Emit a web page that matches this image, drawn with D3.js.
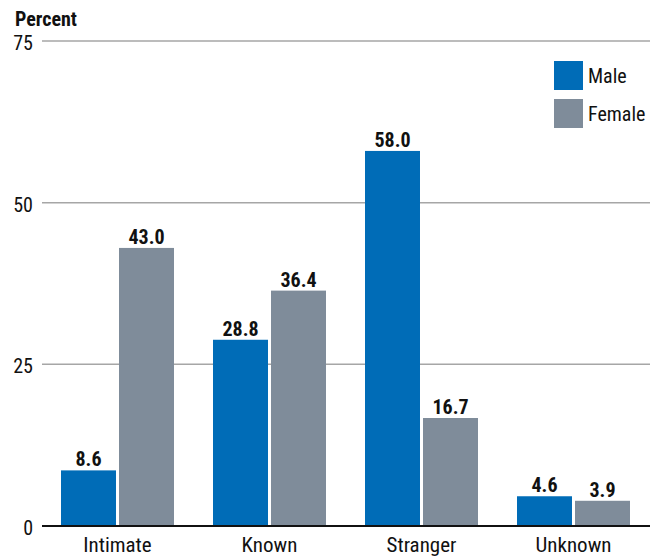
<!DOCTYPE html>
<html>
<head>
<meta charset="utf-8">
<script src="https://cdn.jsdelivr.net/npm/d3@7"></script>
<style>
  body { margin: 0; background: #fff; }
  svg { display: block; font-family: "Roboto Condensed", "Roboto", "Liberation Sans Narrow", sans-serif; font-stretch: condensed; }
</style>
</head>
<body>
<svg id="chart" width="656" height="556"></svg>
<script>
var categories = ["Intimate", "Known", "Stranger", "Unknown"];
var groups = ["Male", "Female"];
var maleValues = [8.6, 28.8, 58.0, 4.6];
var femaleValues = [43.0, 36.4, 16.7, 3.9];
var yTicks = [0, 25, 50, 75];

var colors = { Male: "#006cb7", Female: "#7f8c9a" };

var svg = d3.select("#chart");
var plotLeft = 42, plotRight = 650, plotTop = 41, plotBottom = 526;

var rows = categories.map(function(c, i) {
    return { cat: c, Male: maleValues[i], Female: femaleValues[i] };
});

var x = d3.scaleBand()
    .domain(categories)
    .range([plotLeft, 649])
    .paddingInner(0.2566)
    .paddingOuter(0.125);

var xSub = d3.scaleBand()
    .domain(groups)
    .range([0, x.bandwidth()])
    .paddingInner(0.052);

var y = d3.scaleLinear()
    .domain([0, 75])
    .range([plotBottom, plotTop]);

// gridlines
svg.append("g")
    .selectAll("line")
    .data(yTicks.filter(d => d > 0))
    .join("line")
    .attr("x1", plotLeft)
    .attr("x2", plotRight)
    .attr("y1", d => y(d))
    .attr("y2", d => y(d))
    .style("stroke", "#a6a6a6")
    .style("stroke-width", "1.5px");

// y tick labels
svg.append("g")
    .selectAll("text")
    .data(yTicks)
    .join("text")
    .attr("x", 33)
    .attr("y", d => y(d) + 9)
    .attr("text-anchor", "end")
    .style("font-size", "20px")
    .style("fill", "#111")
    .text(d => d);

svg.append("text")
    .attr("x", 15)
    .attr("y", 26)
    .style("font-size", "20px")
    .style("font-weight", "bold")
    .style("fill", "#111")
    .text("Percent");

// bars
var cat = svg.append("g")
    .selectAll("g")
    .data(rows)
    .join("g")
    .attr("transform", d => "translate(" + x(d.cat) + ",0)");

cat.selectAll("rect")
    .data(d => groups.map(g => ({ key: g, value: d[g] })))
    .join("rect")
    .attr("x", d => xSub(d.key))
    .attr("width", xSub.bandwidth())
    .attr("y", d => y(d.value))
    .attr("height", d => y(0) - y(d.value))
    .style("fill", d => colors[d.key]);

cat.selectAll("text")
    .data(d => groups.map(g => ({ key: g, value: d[g] })))
    .join("text")
    .attr("x", d => xSub(d.key) + xSub.bandwidth() / 2)
    .attr("y", d => y(d.value) - 4)
    .attr("text-anchor", "middle")
    .style("font-size", "20px")
    .style("font-weight", "bold")
    .style("fill", "#111")
    .text(d => d.value.toFixed(1));

// baseline
svg.append("line")
    .attr("x1", plotLeft)
    .attr("x2", plotRight)
    .attr("y1", y(0))
    .attr("y2", y(0))
    .style("stroke", "#111")
    .style("stroke-width", "2px");

// category labels
svg.append("g")
    .selectAll("text")
    .data(categories)
    .join("text")
    .attr("x", d => x(d) + x.bandwidth() / 2)
    .attr("y", 552)
    .attr("text-anchor", "middle")
    .style("font-size", "21px")
    .style("fill", "#111")
    .text(d => d);

// legend
var legend = svg.append("g")
    .selectAll("g")
    .data(groups)
    .join("g")
    .attr("transform", (d, i) => "translate(554," + (61 + i * 38) + ")");

legend.append("rect")
    .attr("width", 29)
    .attr("height", 29)
    .style("fill", d => colors[d]);

legend.append("text")
    .attr("x", 34)
    .attr("y", 22)
    .style("font-size", "20px")
    .style("fill", "#111")
    .text(d => d);
</script>
</body>
</html>
